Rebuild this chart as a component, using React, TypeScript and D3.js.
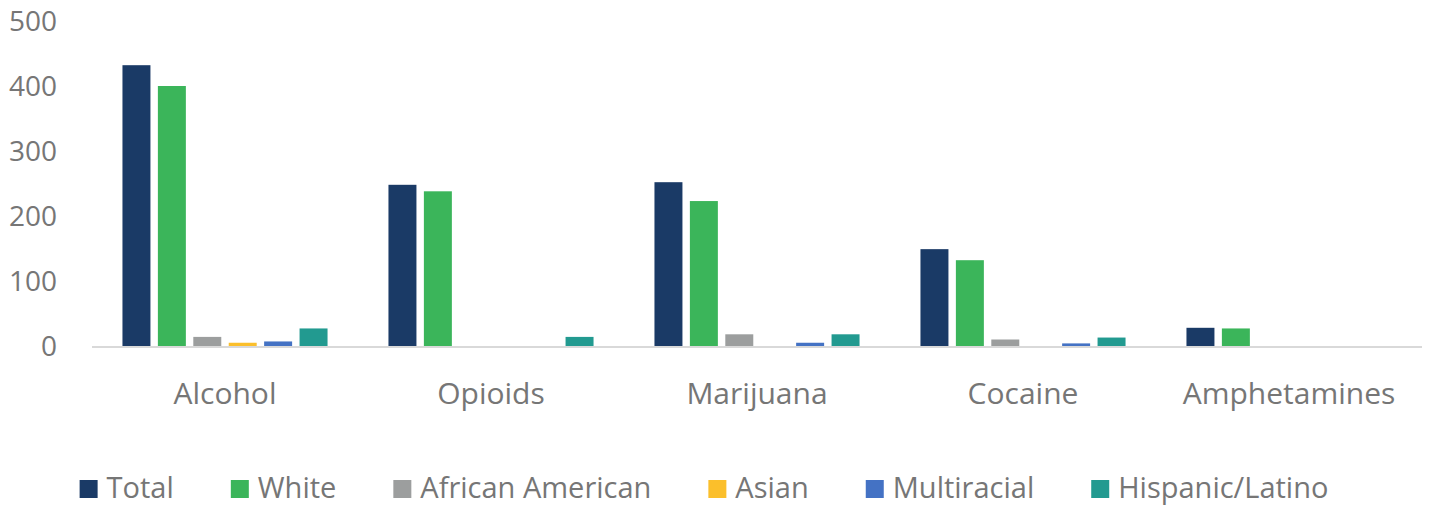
import React, { useEffect, useRef } from "react";
import * as d3 from "d3";

const categories = ["Alcohol", "Opioids", "Marijuana", "Cocaine", "Amphetamines"];
const seriesNames = ["Total", "White", "African American", "Asian", "Multiracial", "Hispanic/Latino"];
const seriesColors = ["#1a3a66", "#3bb55a", "#9c9e9e", "#fbbf2b", "#4472c4", "#229a90"];
const total = [432, 248, 252, 149, 28];
const white = [400, 238, 223, 132, 27];
const africanAmerican = [14, 0, 18, 10, 0];
const asian = [5, 0, 0, 0, 0];
const multiracial = [7, 0, 5, 4, 0];
const hispanic = [27, 14, 18, 13, 0];
const yTicks = [0, 100, 200, 300, 400, 500];

const W = 1429;
const H = 506;

export default function App() {
  const ref = useRef<SVGSVGElement>(null);
  useEffect(() => {
    const svg = d3.select(ref.current);
    svg.selectAll("*").remove();
    const font = "'Open Sans', 'Noto Sans', sans-serif";
    const textColor = "#767676";
    const left = 92, right = 1422, top = 21, bottom = 346;
    const x = d3.scaleBand().domain(categories).range([left, right]).paddingInner(0).paddingOuter(0);
    const y = d3.scaleLinear().domain([0, 500]).range([bottom, top]);
    const inner = d3.scaleBand().domain(seriesNames).range([0, x.bandwidth()]).paddingInner(0.21).paddingOuter(0.86);
    const data = [total, white, africanAmerican, asian, multiracial, hispanic];

    // y tick labels
    svg.append("g").selectAll("text").data(yTicks).join("text")
      .attr("x", 57).attr("y", (d) => y(d)).attr("dy", "0.36em")
      .attr("text-anchor", "end").attr("font-family", font).attr("font-size", 28)
      .attr("fill", textColor).text((d) => d3.format("d")(d));

    // bars
    categories.forEach((c, ci) => {
      seriesNames.forEach((s, si) => {
        const v = data[si][ci];
        if (v <= 0) return;
        svg.append("rect")
          .attr("x", (x(c) as number) + (inner(s) as number))
          .attr("y", y(v))
          .attr("width", inner.bandwidth())
          .attr("height", y(0) - y(v))
          .attr("fill", seriesColors[si]);
      });
    });

    // axis line
    svg.append("line").attr("x1", left).attr("x2", right).attr("y1", bottom + 1).attr("y2", bottom + 1)
      .attr("stroke", "#d9d9d9").attr("stroke-width", 2);

    // category labels
    svg.append("g").selectAll("text").data(categories).join("text")
      .attr("x", (d) => (x(d) as number) + x.bandwidth() / 2).attr("y", 404)
      .attr("text-anchor", "middle").attr("font-family", font).attr("font-size", 30)
      .attr("fill", textColor).text((d) => d);

    // legend
    const lg = svg.append("g");
    const items = lg.selectAll("g").data(seriesNames).join("g");
    items.append("rect").attr("width", 18).attr("height", 18).attr("y", 480)
      .attr("fill", (_, i) => seriesColors[i]);
    items.append("text").attr("x", 27).attr("y", 498).attr("font-family", font).attr("font-size", 29)
      .attr("fill", textColor).text((d) => d);
    const widths: number[] = [];
    items.each(function () {
      const t = d3.select(this).select("text").node() as SVGTextElement;
      widths.push(27 + t.getComputedTextLength());
    });
    const gap = 57;
    const totalW = d3.sum(widths) + gap * (widths.length - 1);
    let cx = 80 + (1248 - totalW) / 2;
    items.attr("transform", (_, i) => {
      const t = `translate(${cx},0)`;
      cx += widths[i] + gap;
      return t;
    });
  }, []);
  return <svg ref={ref} width={W} height={H} style={{ display: "block", position: "absolute", left: 0, top: 0 }} />;
}
